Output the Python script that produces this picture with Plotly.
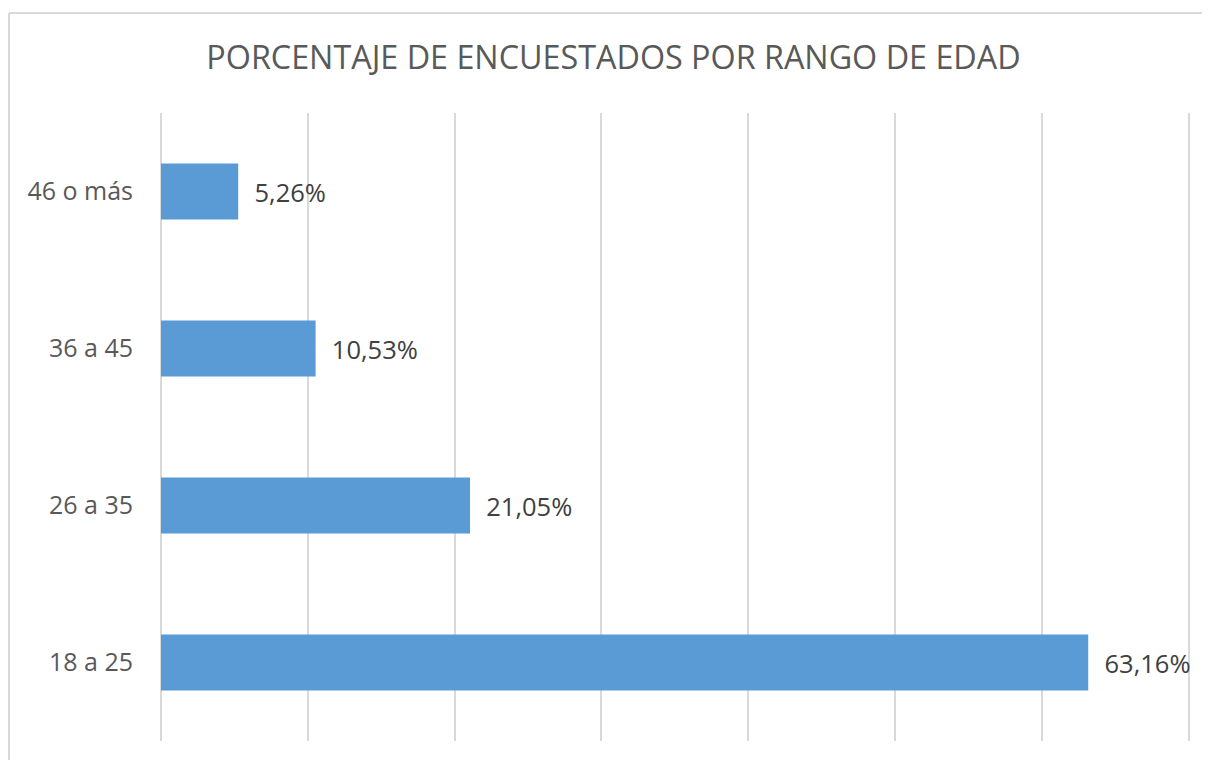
import plotly.graph_objects as go

categories = ["18 a 25", "26 a 35", "36 a 45", "46 o más"]
values = [63.16, 21.05, 10.53, 5.26]
labels = ["63,16%", "21,05%", "10,53%", "5,26%"]
title_text = "PORCENTAJE DE ENCUESTADOS POR RANGO DE EDAD"

FONT = "Open Sans"
# page has an 8px body margin; size the figure so it lands where the reference is
W, H = 1202, 752
XMAX = 70.5
L, T, B = 153, 105, 19
PW = round(1028 * XMAX / 70)
R = W - L - PW
PH = H - T - B

# open border: left and top edges, running to the figure's own edges
bx0 = -(L - 1) / PW
bx1 = 1 + R / PW
by0 = -B / PH
by1 = 1 + (T - 5) / PH

fig = go.Figure()
fig.add_trace(go.Bar(
    x=values, y=categories, orientation="h",
    marker=dict(color="#5B9BD5", line=dict(width=0)),
    text=labels, textposition="outside",
    texttemplate="  %{text}",
    textfont=dict(family=FONT, size=25.5, color="#404040"),
    cliponaxis=False, hoverinfo="skip",
))

fig.update_layout(
    width=W, height=H,
    margin=dict(l=L, r=R, t=T, b=B, pad=0),
    paper_bgcolor="white", plot_bgcolor="white",
    bargap=0.643,
    showlegend=False,
    title=dict(text=title_text, x=605.5 / W, xanchor="center", y=1 - 50 / H, yanchor="middle",
               font=dict(family=FONT, size=32.3, color="#595959")),
    xaxis=dict(range=[0, XMAX], dtick=10, tick0=0, showticklabels=False,
               showgrid=True, gridcolor="#D9D9D9", gridwidth=2,
               zeroline=True, zerolinecolor="#D9D9D9", zerolinewidth=2,
               showline=False, ticks=""),
    yaxis=dict(categoryorder="array", categoryarray=categories,
               showgrid=False, zeroline=False, showline=False, ticks="",
               ticklabelstandoff=27,
               tickfont=dict(family=FONT, size=25, color="#595959")),
    shapes=[dict(type="line", xref="paper", yref="paper",
                 x0=bx0, x1=bx0, y0=by0, y1=by1,
                 line=dict(color="#D9D9D9", width=2), layer="below"),
            dict(type="line", xref="paper", yref="paper",
                 x0=bx0, x1=bx1, y0=by1, y1=by1,
                 line=dict(color="#D9D9D9", width=2), layer="below")],
)

fig.write_html("out.html")
